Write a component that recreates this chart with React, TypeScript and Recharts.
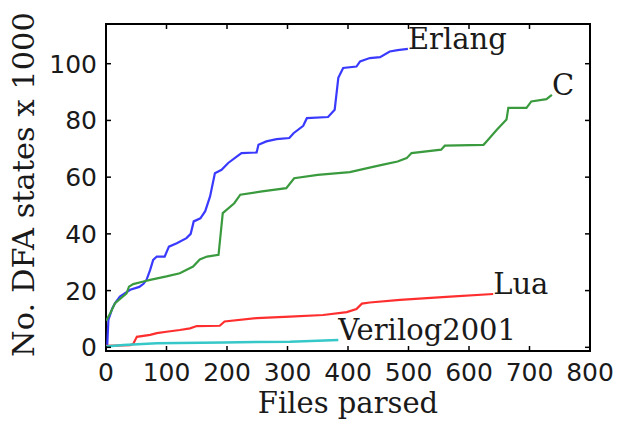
import React from 'react';
import { LineChart, Line, XAxis, YAxis, ReferenceArea, ReferenceDot } from 'recharts';

// ---- data ----
const xTicks = [0, 100, 200, 300, 400, 500, 600, 700, 800];
const yTicks = [0, 20, 40, 60, 80, 100];

const erlangFiles = [0, 2, 4, 10, 15, 23, 40, 55, 62, 67, 73, 78, 84, 97, 104, 117, 133, 140, 145, 156, 164, 172, 180, 191, 202, 216, 224, 249, 252, 265, 282, 303, 310, 326, 332, 367, 378, 384, 392, 414, 420, 436, 453, 469, 482, 499];
const erlangStates = [0, 0.5, 9.7, 13.5, 15.6, 17.9, 20.3, 21.3, 22.4, 23.8, 27.3, 30.8, 32, 32, 35.5, 36.7, 38.5, 40, 44.4, 45.5, 48, 53.2, 61.4, 62.6, 65, 67.2, 68.5, 68.7, 71.4, 72.6, 73.4, 73.8, 75.5, 78.1, 80.8, 81.2, 83.8, 95, 98.5, 99, 100.8, 102, 102.3, 104.3, 104.8, 105.2];

const cFiles = [0, 1, 7, 15, 34, 38, 45, 62, 73, 100, 122, 144, 155, 167, 186, 193, 212, 222, 258, 298, 311, 350, 403, 443, 458, 482, 497, 505, 554, 560, 624, 629, 646, 662, 665, 695, 703, 728, 737];
const cStates = [9.5, 9.7, 12, 15.6, 19, 21.4, 22.3, 23.2, 23.8, 25, 26.1, 28.5, 31, 32, 32.6, 47.3, 50.8, 53.8, 55, 56.1, 59.6, 60.8, 61.8, 63.7, 64.4, 65.5, 66.7, 68.5, 69.7, 71.1, 71.4, 72.6, 76.7, 80.3, 84.4, 84.4, 86.7, 87.5, 89];

const luaFiles = [0, 40, 45, 51, 73, 84, 100, 122, 139, 150, 188, 196, 249, 304, 359, 398, 414, 423, 436, 486, 569, 640];
const luaStates = [0.5, 0.8, 1.2, 3.7, 4.4, 5, 5.5, 6.1, 6.7, 7.5, 7.6, 9.1, 10.3, 10.8, 11.4, 12.4, 13.5, 15.4, 15.8, 16.7, 17.9, 18.8];

const verilogFiles = [0, 29, 84, 194, 304, 384];
const verilogStates = [0.25, 0.85, 1.4, 1.7, 2.0, 2.6];

const seriesNames = ['Erlang', 'C', 'Lua', 'Verilog2001'];
const seriesColors = ['#3a3aff', '#3a9a3e', '#ff2e2e', '#36c8c8'];

const toPoints = (xs: number[], ys: number[]) => xs.map((x, i) => ({ x, y: ys[i] }));
const series = [
  toPoints(erlangFiles, erlangStates),
  toPoints(cFiles, cStates),
  toPoints(luaFiles, luaStates),
  toPoints(verilogFiles, verilogStates),
];

const Y_MIN = -1.3;
const Y_MAX = 114;
const TICK = 5;
const SANS = 'DejaVu Sans';
const SERIF = 'DejaVu Serif';

const XTick = (props: any) => {
  const { x, y, payload } = props;
  return (
    <g>
      <line x1={x} x2={x} y1={y} y2={y - TICK} stroke="#000" strokeWidth={1.5} />
      <line x1={x} x2={x} y1={24} y2={24 + TICK} stroke="#000" strokeWidth={1.5} />
      <text x={x} y={y + 30} textAnchor="middle" fontFamily={SANS} fontSize={25} fill="#1a1a1a">
        {payload.value}
      </text>
    </g>
  );
};

const YTick = (props: any) => {
  const { x, y, payload } = props;
  return (
    <g>
      <line x1={x} x2={x + TICK} y1={y} y2={y} stroke="#000" strokeWidth={1.5} />
      <line x1={590} x2={590 - TICK} y1={y} y2={y} stroke="#000" strokeWidth={1.5} />
      <text x={x - 9} y={y + 9} textAnchor="end" fontFamily={SANS} fontSize={25} fill="#1a1a1a">
        {payload.value}
      </text>
    </g>
  );
};

const YLabel = (props: any) => {
  const vb = props.viewBox;
  const cx = vb.x + 23;
  const cy = vb.y + vb.height / 2 - 3;
  return (
    <text x={cx} y={cy} transform={`rotate(-90, ${cx}, ${cy})`} textAnchor="middle" dominantBaseline="central"
      fontFamily={SERIF} fontSize={30.5} fill="#1a1a1a">
      No. DFA states x 1000
    </text>
  );
};

const XLabel = (props: any) => {
  const vb = props.viewBox;
  return (
    <text x={vb.x + vb.width / 2} y={vb.y + 62} textAnchor="middle" fontFamily={SERIF} fontSize={29} fill="#1a1a1a">
      Files parsed
    </text>
  );
};

export default function App() {
  return (
    <div style={{ width: 618, height: 421, background: '#fff' }}>
      <style>{'body{margin:0;}'}</style>
      <LineChart width={618} height={421} margin={{ top: 24, right: 28, bottom: 0, left: 0 }}>
        <XAxis
          type="number"
          dataKey="x"
          domain={[0, 800]}
          ticks={xTicks}
          allowDataOverflow
          height={70}
          tickSize={0}
          tickMargin={0}
          axisLine={false}
          tickLine={false}
          tick={<XTick />}
          interval={0}
          label={(p: any) => <XLabel {...p} />}
        />
        <YAxis
          type="number"
          dataKey="y"
          domain={[Y_MIN, Y_MAX]}
          ticks={yTicks}
          allowDataOverflow
          width={106}
          tickSize={0}
          tickMargin={0}
          axisLine={false}
          tickLine={false}
          tick={<YTick />}
          interval={0}
          label={(p: any) => <YLabel {...p} />}
        />
        <ReferenceArea x1={0} x2={800} y1={Y_MIN} y2={Y_MAX} fill="none" stroke="#000" strokeWidth={2} ifOverflow="visible" />
        {series.map((data, i) => (
          <Line
            key={seriesNames[i]}
            data={data}
            dataKey="y"
            type="linear"
            stroke={seriesColors[i]}
            strokeWidth={i === 3 ? 2.5 : 2.2}
            dot={false}
            activeDot={false}
            isAnimationActive={false}
          />
        ))}
        {series.map((data, i) => {
          const last = data[data.length - 1];
          return (
            <ReferenceDot
              key={'lbl' + i}
              x={last.x}
              y={last.y}
              r={0}
              ifOverflow="visible"
              shape={(p: any) => (
                <text x={p.cx} y={p.cy} fontFamily={SERIF} fontSize={29} fill="#1a1a1a">
                  {seriesNames[i]}
                </text>
              )}
            />
          );
        })}
      </LineChart>
    </div>
  );
}
